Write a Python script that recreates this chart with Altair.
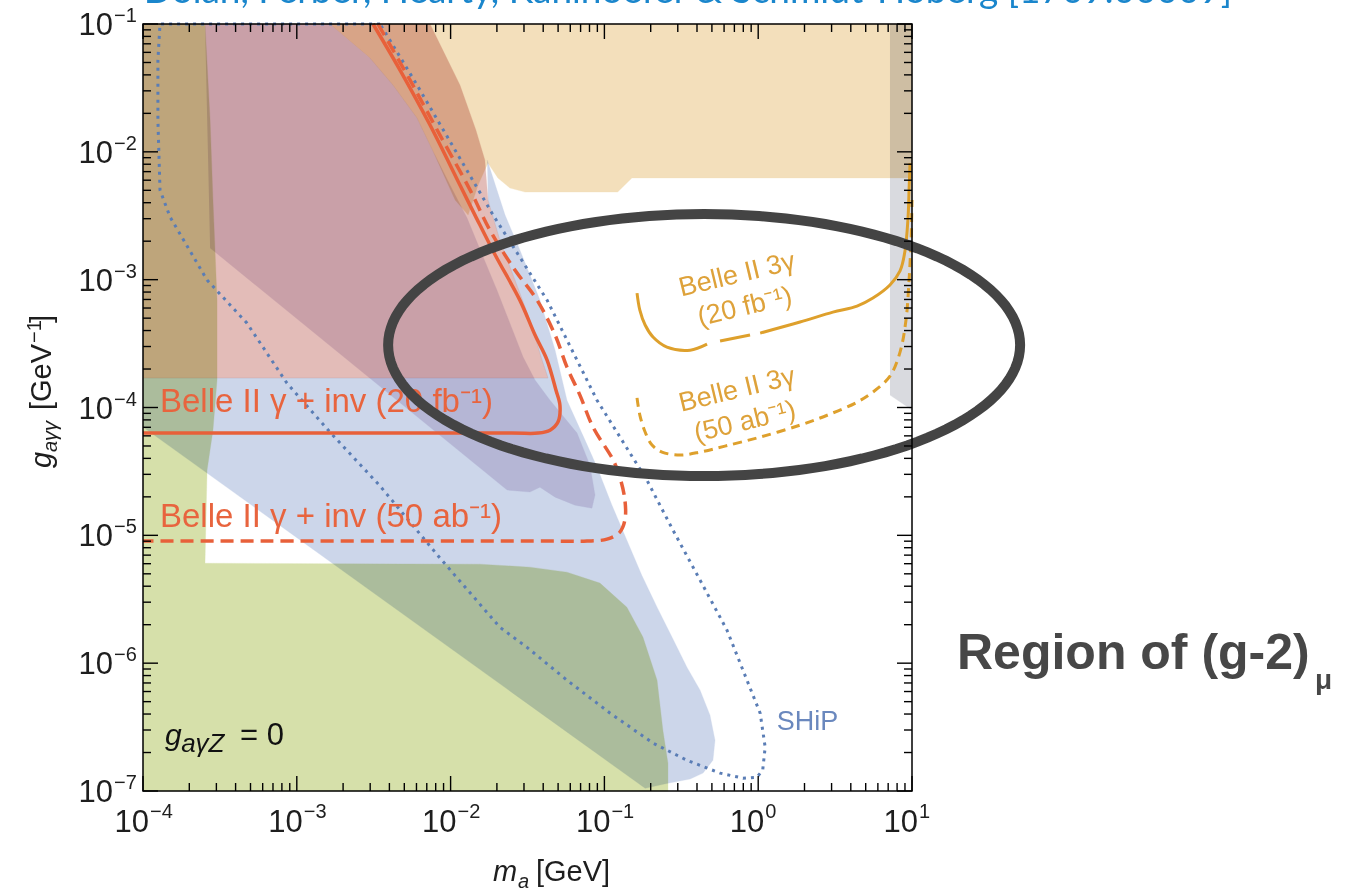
import altair as alt
import numpy as np
import pandas as pd

W, H = 769, 767

# ---------------- data ----------------
# shaded regions (mass [GeV], coupling [GeV^-1]) -- polygon outlines
tan_m = [1.64e-3, 10, 10, 0.151, 0.122, 3.05e-2, 2.43e-2, 2.03e-2, 1.75e-2, 1.51e-2, 1.30e-2, 1.07e-2, 7.69e-3, 6.05e-3, 4.22e-3, 2.99e-3]
tan_g = [0.1, 0.1, 6.24e-3, 6.24e-3, 4.84e-3, 4.84e-3, 5.21e-3, 6.24e-3, 8.17e-3, 5.50e-3, 3.20e-3, 4.20e-3, 1.01e-2, 1.84e-2, 3.33e-2, 5.42e-2]

pink_m = [1e-4, 7.35e-3, 1.15e-2, 1.46e-2, 1.67e-2, 1.75e-2, 2.09e-2, 2.62e-2, 3.28e-2, 3.93e-2, 4.30e-2, 1e-4]
pink_g = [0.1, 0.1, 3.33e-2, 1.48e-2, 8.63e-3, 4.20e-3, 2.04e-3, 9.93e-4, 4.83e-4, 2.35e-4, 1.70e-4, 1.70e-4]

lav_m = [2.53e-4, 1.64e-3, 2.99e-3, 4.22e-3, 6.05e-3, 7.69e-3, 9.91e-3, 1.28e-2, 1.63e-2, 2.00e-2, 2.43e-2, 2.96e-2, 3.54e-2, 4.43e-2, 6.64e-2, 8.05e-2, 8.69e-2, 8.30e-2, 6.44e-2, 4.78e-2, 3.81e-2, 3.28e-2, 2.33e-2, 2.73e-4]
lav_g = [0.1, 0.1, 5.42e-2, 3.33e-2, 1.84e-2, 1.01e-2, 5.50e-3, 3.03e-3, 1.50e-3, 8.30e-4, 4.57e-4, 2.48e-4, 1.64e-4, 1.14e-4, 6.31e-5, 3.54e-5, 2.07e-5, 1.63e-5, 1.72e-5, 1.99e-5, 2.38e-5, 2.18e-5, 2.26e-5, 1.77e-3]

blue_m = [1.73e-2, 2.26e-2, 2.82e-2, 3.81e-2, 4.78e-2, 5.71e-2, 7.48e-2, 8.95e-2, 0.112, 0.140, 0.175, 0.220, 0.275, 0.344, 0.419, 0.486, 0.524, 0.508, 0.438, 0.361, 0.259, 0.184, 1e-4, 1e-4, 4.30e-2, 3.93e-2, 3.28e-2, 2.62e-2, 2.09e-2, 1.75e-2]
blue_g = [8.63e-3, 3.20e-3, 1.71e-3, 6.92e-4, 2.81e-4, 1.14e-4, 5.56e-5, 3.42e-5, 1.72e-5, 9.17e-6, 4.88e-6, 2.74e-6, 1.60e-6, 9.31e-7, 6.15e-7, 3.92e-7, 2.49e-7, 1.74e-7, 1.38e-7, 1.24e-7, 1.15e-7, 1.05e-7, 7.03e-5, 1.70e-4, 1.70e-4, 2.35e-4, 4.83e-4, 9.93e-4, 2.04e-3, 4.20e-3]

green_m = [1e-4, 2.53e-4, 2.73e-4, 2.85e-4, 3.03e-4, 3.03e-4, 2.85e-4, 2.61e-4, 2.53e-4, 1.55e-2, 3.28e-2, 5.71e-2, 9.35e-2, 0.140, 0.178, 0.220, 0.240, 0.259, 0.259, 1e-4]
green_g = [0.1, 0.1, 1.77e-2, 4.20e-3, 6.92e-4, 1.64e-4, 6.65e-5, 3.24e-5, 6.05e-6, 5.95e-6, 5.64e-6, 5.15e-6, 4.23e-6, 2.74e-6, 1.60e-6, 7.36e-7, 2.99e-7, 1.65e-7, 1e-7, 1e-7]

grey_m = [7.19, 10, 10, 7.19]
grey_g = [0.1, 0.1, 9.55e-5, 1.25e-4]

# projected sensitivities
inv20_m = [3.13e-3, 4.69e-3, 7.35e-3, 1.15e-2, 1.44e-2, 1.95e-2, 2.82e-2, 3.54e-2, 4.24e-2, 4.84e-2, 5.14e-2, 4.99e-2, 4.43e-2, 3.70e-2, 2.5e-2, 1e-4]
inv20_g = [0.1, 4.36e-2, 1.62e-2, 5.50e-3, 3.20e-3, 1.56e-3, 6.92e-4, 3.69e-4, 2.35e-4, 1.37e-4, 1.04e-4, 7.69e-5, 6.65e-5, 6.31e-5, 6.31e-5, 6.31e-5]

inv50_m = [3.37e-3, 5.44e-3, 8.53e-3, 1.34e-2, 1.80e-2, 2.62e-2, 3.65e-2, 4.78e-2, 5.71e-2, 6.93e-2, 8.43e-2, 0.114, 0.126, 0.136, 0.136, 0.126, 0.104, 7.71e-2, 5.0e-2, 1e-4]
inv50_g = [0.1, 3.65e-2, 1.35e-2, 5.02e-3, 2.44e-3, 1.19e-3, 6.92e-4, 3.69e-4, 2.07e-4, 1.25e-4, 7.03e-5, 3.88e-5, 2.85e-5, 1.88e-5, 1.32e-5, 1.06e-5, 9.34e-6, 9.01e-6, 9.01e-6, 9.01e-6]

g3_20_m = [0.163, 0.170, 0.184, 0.207, 0.255, 0.361, 0.465, 0.565, 0.885, 1.03, 1.87, 3.06, 4.39, 5.57, 7.19, 8.36, 9.00, 9.42, 9.57, 9.71]
g3_20_g = [7.85e-4, 5.78e-4, 4.42e-4, 3.56e-4, 2.97e-4, 2.81e-4, 3.13e-4, 3.31e-4, 3.69e-4, 3.82e-4, 4.66e-4, 5.57e-4, 6.21e-4, 7.18e-4, 9.08e-4, 1.17e-3, 1.67e-3, 3.03e-3, 5.02e-3, 8.17e-3]
g3_20_seg = [0, 0, 0, 0, 0, 0, 0, 1, 1, 2, 2, 2, 2, 2, 2, 2, 2, 2, 2, 2]

g3_50_m = [0.163, 0.170, 0.184, 0.204, 0.237, 0.310, 0.419, 0.608, 1.03, 1.87, 2.93, 4.39, 5.57, 7.19, 8.36, 9.14, 9.57, 9.86, 10]
g3_50_g = [1.19e-4, 8.73e-5, 6.43e-5, 5.08e-5, 4.48e-5, 4.25e-5, 4.48e-5, 4.99e-5, 5.87e-5, 7.28e-5, 8.88e-5, 1.10e-4, 1.32e-4, 1.76e-4, 2.71e-4, 4.83e-4, 9.93e-4, 2.04e-3, 4.20e-3]

ship_m = [3.48e-3, 1.29e-4, 1.25e-4, 1.25e-4, 1.29e-4, 1.50e-4, 2.61e-4, 4.74e-4, 8.63e-4, 1.64e-3, 3.48e-3, 8.53e-3, 2.09e-2, 3.14e-2, 5.71e-2, 0.109, 0.207, 0.344, 0.565, 0.796, 0.982, 1.07, 1.11, 1.03, 0.845, 0.627, 0.419, 0.279, 0.189, 8.95e-2, 4.24e-2, 1.89e-2, 6.05e-3, 3.48e-3]
ship_g = [0.1, 0.1, 5.23e-2, 1.77e-2, 5.02e-3, 3.09e-3, 9.93e-4, 4.57e-4, 1.55e-4, 6.43e-5, 2.43e-5, 6.64e-6, 1.91e-6, 1.33e-6, 7.36e-7, 4.06e-7, 2.37e-7, 1.74e-7, 1.38e-7, 1.26e-7, 1.28e-7, 1.46e-7, 2.20e-7, 4.06e-7, 7.36e-7, 1.81e-6, 4.46e-6, 1.10e-5, 2.70e-5, 1.14e-4, 6.92e-4, 3.20e-3, 3.33e-2, 0.1]

# axis tick values
x_major = [1e-4, 1e-3, 1e-2, 1e-1, 1, 10]
x_exp = ["\u22124", "\u22123", "\u22122", "\u22121", "0", "1"]
y_major = [1e-7, 1e-6, 1e-5, 1e-4, 1e-3, 1e-2, 1e-1]
y_exp = ["\u22127", "\u22126", "\u22125", "\u22124", "\u22123", "\u22122", "\u22121"]
x_minor = [k * d for d in [1e-4, 1e-3, 1e-2, 1e-1, 1] for k in range(2, 10)]
y_minor = [k * d for d in [1e-7, 1e-6, 1e-5, 1e-4, 1e-3, 1e-2] for k in range(2, 10)]

# ---------------- chart ----------------
FONT = "Liberation Sans"
xs = alt.Scale(type="log", domain=[1e-4, 10], nice=False)
ys = alt.Scale(type="log", domain=[1e-7, 1e-1], nice=False)


def XE(f="m"):
    return alt.X(f"{f}:Q", scale=xs, axis=None)


def YE(f="g"):
    return alt.Y(f"{f}:Q", scale=ys, axis=None)


def frame(m, g, extra=None):
    d = pd.DataFrame({"m": m, "g": g, "i": range(len(m))})
    if extra is not None:
        for k, v in extra.items():
            d[k] = v
    return d


def region(m, g, color):
    return alt.Chart(frame(m, g)).mark_line(
        fill=color, stroke=color, strokeWidth=0.3, blend="multiply", interpolate="linear"
    ).encode(x=XE(), y=YE(), order=alt.Order("i:Q"))


def curve(m, g, color, width, dash=None, seg=None, cap="butt", interp="catmull-rom"):
    kw = dict(color=color, strokeWidth=width, interpolate=interp, strokeCap=cap, strokeJoin="round")
    if dash is not None:
        kw["strokeDash"] = dash
    enc = dict(x=XE(), y=YE(), order=alt.Order("i:Q"))
    d = frame(m, g, {"seg": seg} if seg is not None else None)
    if seg is not None:
        enc["detail"] = "seg:N"
    return alt.Chart(d).mark_line(**kw).encode(**enc)


layers = [
    region(green_m, green_g, "#d6e0aa"),
    region(blue_m, blue_g, "#ccd6ea"),
    region(pink_m, pink_g, "#e3bcb8"),
    region(lav_m, lav_g, "#e2d9e9"),
    region(tan_m, tan_g, "#f3dfbb"),
    region(grey_m, grey_g, "#d9dadf"),
    curve(ship_m, ship_g, "#5a7db5", 3, dash=[3, 5], interp="linear"),
    curve(inv20_m, inv20_g, "#e8603a", 3.5),
    curve(inv50_m, inv50_g, "#e8603a", 3.5, dash=[13, 7]),
    curve(g3_20_m, g3_20_g, "#dea02c", 3, seg=g3_20_seg),
    curve(g3_50_m, g3_50_g, "#dea02c", 3, dash=[9, 6]),
]

# in-plot labels (positioned in data coordinates)
lab = pd.DataFrame({
    "m": [1.29e-4, 1.29e-4],
    "g": [9.2e-5, 1.16e-5],
    "t": ["Belle II \u03b3 + inv (20 fb\u207b\u00b9)", "Belle II \u03b3 + inv (50 ab\u207b\u00b9)"],
})
layers.append(alt.Chart(lab).mark_text(align="left", baseline="alphabetic", font=FONT, fontSize=33,
                                       color="#e8643e").encode(x=XE(), y=YE(), text="t:N"))

lab3 = pd.DataFrame({
    "m": [0.728, 0.820, 0.728, 0.820],
    "g": [1.09e-3, 6.11e-4, 1.37e-4, 7.69e-5],
    "t": ["Belle II 3\u03b3", "(20 fb\u207b\u00b9)", "Belle II 3\u03b3", "(50 ab\u207b\u00b9)"],
})
layers.append(alt.Chart(lab3).mark_text(align="center", baseline="middle", font=FONT, fontSize=27,
                                        angle=346.5, color="#dea23a").encode(x=XE(), y=YE(), text="t:N"))

ship_lab = pd.DataFrame({"m": [1.32], "g": [2.99e-7], "t": ["SHiP"]})
layers.append(alt.Chart(ship_lab).mark_text(align="left", baseline="alphabetic", font=FONT, fontSize=27,
                                            color="#6a88be").encode(x=XE(), y=YE(), text="t:N"))

gz = pd.DataFrame({"m": [1.39e-4], "g": [2.28e-7], "t": ["g"]})
gz_sub = pd.DataFrame({"m": [1.77e-4], "g": [2.01e-7], "t": ["a\u03b3Z"]})
gz_eq = pd.DataFrame({"m": [4.28e-4], "g": [2.28e-7], "t": ["= 0"]})
layers.append(alt.Chart(gz).mark_text(align="left", baseline="alphabetic", font=FONT, fontSize=30,
                                      fontStyle="italic", color="#111").encode(x=XE(), y=YE(), text="t:N"))
layers.append(alt.Chart(gz_sub).mark_text(align="left", baseline="alphabetic", font=FONT, fontSize=26,
                                          fontStyle="italic", color="#111").encode(x=XE(), y=YE(), text="t:N"))
layers.append(alt.Chart(gz_eq).mark_text(align="left", baseline="alphabetic", font=FONT, fontSize=31,
                                         color="#111").encode(x=XE(), y=YE(), text="t:N"))

# ellipse annotation around the (g-2) region
t = np.linspace(0, 2 * np.pi, 145)
ratio = 131 / 316
ell_path = "M" + " L".join(f"{np.cos(a):.4f},{-ratio * np.sin(a):.4f}" for a in t) + " Z"
ell = pd.DataFrame({"m": [0.445], "g": [3.08e-4]})
layers.append(alt.Chart(ell).mark_point(shape=ell_path, size=632 ** 2, filled=False, stroke="#444444",
                                        strokeWidth=10, opacity=1).encode(x=XE(), y=YE()))

# ticks (inside, on all four sides)
xt = pd.DataFrame({"v": x_major + x_minor, "major": [1] * len(x_major) + [0] * len(x_minor)})
yt = pd.DataFrame({"v": y_major + y_minor, "major": [1] * len(y_major) + [0] * len(y_minor)})
for mj, L in [(1, 15), (0, 8)]:
    bx = alt.Chart(xt).transform_filter(f"datum.major == {mj}")
    by = alt.Chart(yt).transform_filter(f"datum.major == {mj}")
    rk = dict(color="black", strokeWidth=1.4)
    layers.append(bx.mark_rule(**rk).encode(x=XE("v"), y=alt.value(H), y2=alt.value(H - L)))
    layers.append(bx.mark_rule(**rk).encode(x=XE("v"), y=alt.value(0), y2=alt.value(L)))
    layers.append(by.mark_rule(**rk).encode(y=YE("v"), x=alt.value(0), x2=alt.value(L)))
    layers.append(by.mark_rule(**rk).encode(y=YE("v"), x=alt.value(W), x2=alt.value(W - L)))

layers.append(alt.Chart(pd.DataFrame({"a": [0]})).mark_rect(filled=False, stroke="black", strokeWidth=1.5).encode(
    x=alt.value(0), x2=alt.value(W), y=alt.value(0), y2=alt.value(H)))

# tick labels 10^n
xl = pd.DataFrame({"v": x_major, "b": ["10"] * len(x_major), "e": x_exp})
yl = pd.DataFrame({"v": y_major, "b": ["10"] * len(y_major), "e": y_exp})
LC = "#1e1e1e"
layers.append(alt.Chart(xl).mark_text(align="right", baseline="alphabetic", font=FONT, fontSize=31, dx=6,
                                      color=LC).encode(x=XE("v"), y=alt.value(H + 41), text="b:N"))
layers.append(alt.Chart(xl).mark_text(align="left", baseline="alphabetic", font=FONT, fontSize=20, dx=7,
                                      color=LC).encode(x=XE("v"), y=alt.value(H + 27), text="e:N"))
layers.append(alt.Chart(yl).mark_text(align="right", baseline="alphabetic", font=FONT, fontSize=31, dy=11,
                                      color=LC).encode(x=alt.value(-30), y=YE("v"), text="b:N"))
layers.append(alt.Chart(yl).mark_text(align="left", baseline="alphabetic", font=FONT, fontSize=20, dy=-2,
                                      color=LC).encode(x=alt.value(-29), y=YE("v"), text="e:N"))


# axis titles and annotations
def txt(s, x, y, size, style="normal", weight="normal", color=LC, angle=0, align="left", font=FONT):
    kw = dict(align=align, baseline="alphabetic", font=font, fontSize=size, fontStyle=style,
              fontWeight=weight, color=color, text=s)
    if angle:
        kw["angle"] = angle
    return alt.Chart(pd.DataFrame({"a": [0]})).mark_text(**kw).encode(x=alt.value(x), y=alt.value(y))


layers += [
    txt("m", 350, 857, 29, style="italic"),
    txt("a", 375, 864, 20, style="italic"),
    txt("[GeV]", 393, 857, 29),
    txt("g", -92, 444, 29, style="italic", angle=270),
    txt("a\u03b3\u03b3", -86, 428, 20, style="italic", angle=270),
    txt("[GeV", -92, 386, 29, angle=270),
    txt("\u22121", -102, 319, 20, angle=270),
    txt("]", -92, 299, 29, angle=270),
    txt("Region of (g-2)", 814, 645, 50, weight="bold", color="#474747"),
    txt("\u03bc", 1172, 665, 28, weight="bold", color="#474747"),
    txt("Dolan, Ferber, Hearty, Kahlhoefer & Schmidt-Hoberg [1709.00009]", 545, -21, 37,
        color="#1a86cc", align="center", font="Lato"),
]

chart = alt.layer(*layers).properties(
    width=W, height=H,
    autosize=alt.AutoSizeParams(type="none"),
    padding={"left": 143, "top": 24, "right": 433, "bottom": 103},
    background="white",
).configure_view(strokeWidth=0)

chart.save("out.html", embed_options={"renderer": "svg", "actions": False})
